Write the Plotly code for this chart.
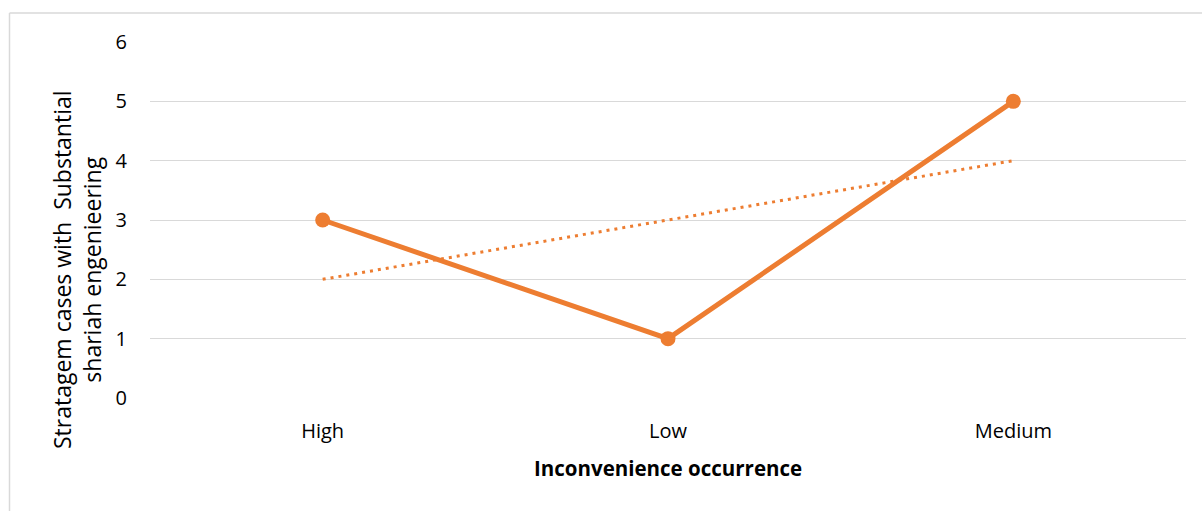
import plotly.graph_objects as go

# Data
categories = ["High", "Low", "Medium"]
cases = [3, 1, 5]
y_ticks = [0, 1, 2, 3, 4, 5, 6]

# Linear trendline fitted to the series (least squares over category index)
n = len(cases)
xs = list(range(n))
mx = sum(xs) / n
my = sum(cases) / n
slope = sum((x - mx) * (y - my) for x, y in zip(xs, cases)) / sum((x - mx) ** 2 for x in xs)
trend = [my + slope * (x - mx) for x in xs]

ORANGE = "#ED7D31"
FONT = "'Open Sans', sans-serif"

W, H = 1202, 511
L, R, T, B = 150, 16, 42, 113

fig = go.Figure()
fig.add_trace(go.Scatter(
    x=categories, y=trend, mode="lines",
    line=dict(color=ORANGE, width=3, dash="3px,5px"),
    hoverinfo="skip", showlegend=False,
))
fig.add_trace(go.Scatter(
    x=categories, y=cases, mode="lines+markers",
    line=dict(color=ORANGE, width=5),
    marker=dict(color=ORANGE, size=15),
    showlegend=False,
))

pw = W - L - R
ph = H - T - B


def px_x(p):
    return (p - L) / pw


def px_y(p):
    return (H - B - p) / ph


fig.update_layout(
    width=W, height=H,
    margin=dict(l=L, r=R, t=T, b=B),
    paper_bgcolor="white", plot_bgcolor="white",
    font=dict(family=FONT, size=18, color="#000000"),
    xaxis=dict(
        type="category", range=[-0.5, 2.5],
        showgrid=False, showline=False, zeroline=False,
        ticks="", tickfont=dict(size=20, color="#000000"),
        ticklabelstandoff=19,
    ),
    yaxis=dict(
        range=[0, 6], tickvals=y_ticks,
        showgrid=True, gridcolor="#D9D9D9", gridwidth=1.3,
        zeroline=False, showline=False, ticks="",
        tickfont=dict(size=20, color="#000000"),
        ticklabelstandoff=22,
    ),
    shapes=[
        # chart-area frame (left and top edges)
        dict(type="line", xref="paper", yref="paper",
             x0=px_x(9.5), x1=px_x(9.5), y0=px_y(13), y1=px_y(520),
             line=dict(color="#D9D9D9", width=1.5)),
        dict(type="line", xref="paper", yref="paper",
             x0=px_x(9.5), x1=px_x(1210), y0=px_y(13), y1=px_y(13),
             line=dict(color="#D9D9D9", width=1.5)),
    ],
    annotations=[
        dict(text="Stratagem cases with  Substantial<br>shariah engenieering",
             xref="paper", yref="paper", x=px_x(77), y=px_y(270),
             xanchor="center", yanchor="middle",
             textangle=-90, showarrow=False,
             font=dict(family=FONT, size=23, color="#000000")),
        dict(text="<b>Inconvenience occurrence</b>",
             xref="paper", yref="paper", x=px_x(668), y=px_y(468),
             xanchor="center", yanchor="middle",
             showarrow=False,
             font=dict(family=FONT, size=20.5, color="#000000")),
    ],
)

fig.write_html("out.html")
